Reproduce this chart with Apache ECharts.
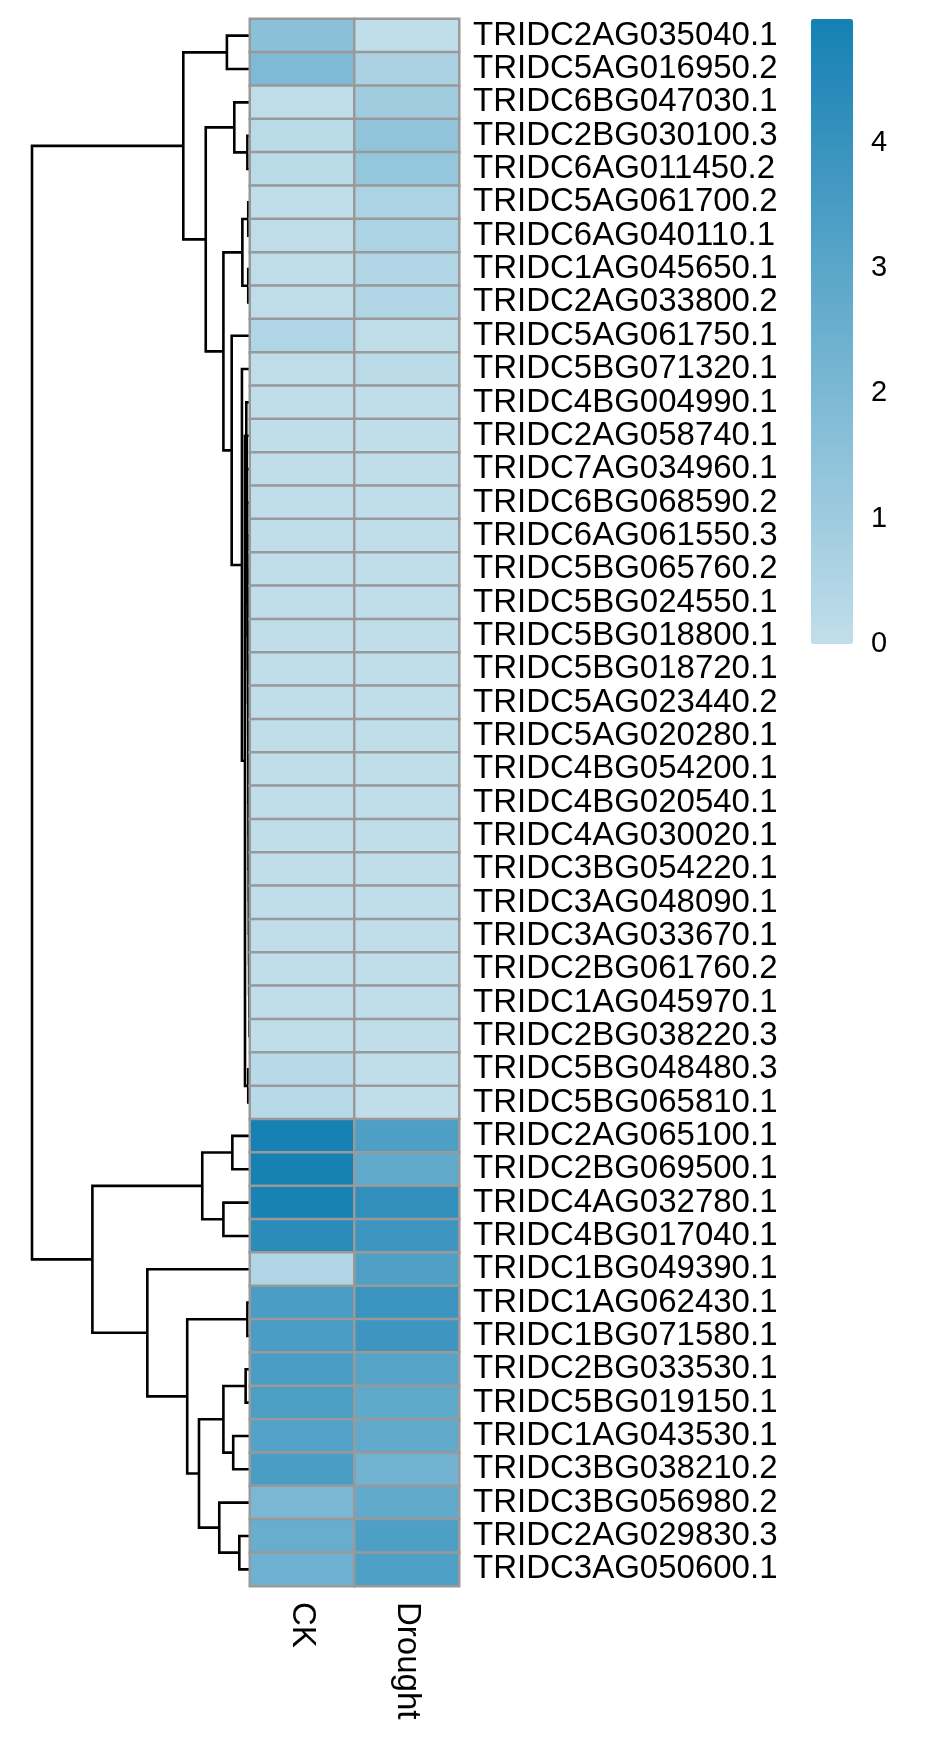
<!DOCTYPE html>
<html><head><meta charset="utf-8">
<script src="https://cdn.jsdelivr.net/npm/echarts@6/dist/echarts.min.js"></script>
<style>html,body{margin:0;padding:0;background:#fff}#c{width:930px;height:1747px}</style>
</head><body><div id="c"></div>
<script>
// ---- data ----
const genes = [
 'TRIDC2AG035040.1','TRIDC5AG016950.2','TRIDC6BG047030.1','TRIDC2BG030100.3','TRIDC6AG011450.2',
 'TRIDC5AG061700.2','TRIDC6AG040110.1','TRIDC1AG045650.1','TRIDC2AG033800.2','TRIDC5AG061750.1',
 'TRIDC5BG071320.1','TRIDC4BG004990.1','TRIDC2AG058740.1','TRIDC7AG034960.1','TRIDC6BG068590.2',
 'TRIDC6AG061550.3','TRIDC5BG065760.2','TRIDC5BG024550.1','TRIDC5BG018800.1','TRIDC5BG018720.1',
 'TRIDC5AG023440.2','TRIDC5AG020280.1','TRIDC4BG054200.1','TRIDC4BG020540.1','TRIDC4AG030020.1',
 'TRIDC3BG054220.1','TRIDC3AG048090.1','TRIDC3AG033670.1','TRIDC2BG061760.2','TRIDC1AG045970.1',
 'TRIDC2BG038220.3','TRIDC5BG048480.3','TRIDC5BG065810.1','TRIDC2AG065100.1','TRIDC2BG069500.1',
 'TRIDC4AG032780.1','TRIDC4BG017040.1','TRIDC1BG049390.1','TRIDC1AG062430.1','TRIDC1BG071580.1',
 'TRIDC2BG033530.1','TRIDC5BG019150.1','TRIDC1AG043530.1','TRIDC3BG038210.2','TRIDC3BG056980.2',
 'TRIDC2AG029830.3','TRIDC3AG050600.1'
];
const conditions = ['CK','Drought'];
const ckValues = [
 1.60,1.93,0.05,0.23,0.23,0.03,0.05,0.05,0.10,0.50,
 0.05,0.03,0.03,0.03,0.03,0.03,0.03,0.03,0.03,0.03,
 0.03,0.03,0.03,0.03,0.03,0.03,0.03,0.03,0.03,0.03,
 0.03,0.25,0.25,4.95,4.95,4.90,4.36,0.47,3.45,3.45,
 3.45,3.42,3.20,3.45,2.05,2.60,2.40
];
const droughtValues = [
 0.02,0.64,0.94,1.40,1.30,0.60,0.60,0.45,0.50,0.05,
 0.20,0.04,0.04,0.04,0.04,0.04,0.04,0.04,0.04,0.04,
 0.04,0.04,0.04,0.04,0.04,0.04,0.04,0.04,0.04,0.04,
 0.04,0.04,0.04,3.33,2.75,4.18,3.80,3.27,3.92,3.80,
 3.10,2.84,2.75,2.28,2.75,3.35,3.30
];
// row clustering: [child a, child b, height]; numbers = row index, 'mN' = merge N
const merges = [
 [3,4,0.12],[2,'m0',0.72],[5,6,0.08],[7,8,0.08],['m2','m3',0.35],
 [29,30,0.03],[28,'m5',0.03],[27,'m6',0.04],[26,'m7',0.04],[25,'m8',0.05],
 [24,'m9',0.05],[23,'m10',0.06],[22,'m11',0.06],[21,'m12',0.07],[20,'m13',0.07],
 [19,'m14',0.08],[18,'m15',0.09],[17,'m16',0.10],[16,'m17',0.11],[15,'m18',0.12],
 [14,'m19',0.13],[13,'m20',0.14],[12,'m21',0.15],[11,'m22',0.17],[31,32,0.08],
 ['m23','m24',0.23],[10,'m25',0.37],[9,'m26',0.84],['m4','m27',1.22],['m1','m28',2.03],
 [0,1,1.06],['m30','m29',3.06],[33,34,0.81],[35,36,1.22],['m32','m33',2.19],
 [38,39,0.12],[40,41,0.20],[42,43,0.77],['m36','m37',1.22],[45,46,0.49],
 [44,'m39',1.41],['m38','m40',2.34],['m35','m41',2.88],[37,'m42',4.71],['m34','m43',7.23],
 ['m31','m44',10.0]
];
const colorLow = '#C1DEEA', colorHigh = '#1580B3';
const valueMin = 0, valueMax = 4.99;

// ---- build ----
const heatData = [];
genes.forEach((g, i) => { heatData.push([0, i, ckValues[i]]); heatData.push([1, i, droughtValues[i]]); });
const pos = {};
const info = k => typeof k === 'number' ? {h: 0, y: k + 0.5} : pos[k];
const dendroData = merges.map((m, idx) => {
  const a = info(m[0]), b = info(m[1]);
  pos['m' + idx] = {h: m[2], y: (a.y + b.y) / 2};
  return [a.h, a.y, m[2], b.y, b.h];
});
const FONT = '"Liberation Sans", Arial, sans-serif';
const chart = echarts.init(document.getElementById('c'), null, {renderer: 'canvas'});
chart.setOption({
  animation: false,
  backgroundColor: '#fff',
  textStyle: {fontFamily: FONT},
  grid: [
    {left: 250, top: 19, width: 209, height: 1567},
    {left: 32, top: 19, width: 218, height: 1567},
    {left: 811, top: 19, width: 42, height: 625}
  ],
  xAxis: [
    {gridIndex: 0, type: 'category', data: conditions, position: 'bottom',
     axisLine: {show: false}, axisTick: {show: false},
     axisLabel: {rotate: -90, margin: 16, fontSize: 33, color: '#000', fontFamily: FONT}},
    {gridIndex: 1, type: 'value', min: 0, max: 10, inverse: true, show: false},
    {gridIndex: 2, type: 'category', data: [''], show: false}
  ],
  yAxis: [
    {gridIndex: 0, type: 'category', data: genes, inverse: true, position: 'right',
     axisLine: {show: false}, axisTick: {show: false},
     axisLabel: {interval: 0, margin: 14, fontSize: 33, color: '#000', fontFamily: FONT}},
    {gridIndex: 1, type: 'value', min: 0, max: genes.length, inverse: true, show: false},
    {gridIndex: 2, type: 'value', min: valueMin, max: valueMax, interval: 1, position: 'right',
     axisLine: {show: false}, axisTick: {show: false}, splitLine: {show: false},
     axisLabel: {margin: 18, fontSize: 29, color: '#000', fontFamily: FONT, showMaxLabel: false}}
  ],
  visualMap: {
    type: 'continuous', min: valueMin, max: valueMax, seriesIndex: 0, orient: 'vertical',
    left: 811, top: 19, itemWidth: 42, itemHeight: 625, padding: 0, calculable: false,
    inRange: {color: [colorLow, colorHigh]}, text: null, hoverLink: false
  },
  series: [
    {type: 'heatmap', xAxisIndex: 0, yAxisIndex: 0, data: heatData,
     itemStyle: {borderColor: '#999999', borderWidth: 2.5}, emphasis: {disabled: true}, z: 3},
    {type: 'custom', xAxisIndex: 1, yAxisIndex: 1, data: dendroData, silent: true,
     encode: {x: [0, 2, 4], y: [1, 3]}, z: 2,
     renderItem: function (params, api) {
       const p1 = api.coord([api.value(0), api.value(1)]);
       const p2 = api.coord([api.value(2), api.value(1)]);
       const p3 = api.coord([api.value(2), api.value(3)]);
       const p4 = api.coord([api.value(4), api.value(3)]);
       return {type: 'polyline', shape: {points: [p1, p2, p3, p4]},
               style: {stroke: '#000', lineWidth: 2.6, fill: null, lineJoin: 'miter', lineCap: 'butt'}};
     }},
    {type: 'scatter', xAxisIndex: 2, yAxisIndex: 2, data: []}
  ]
});
</script></body></html>
